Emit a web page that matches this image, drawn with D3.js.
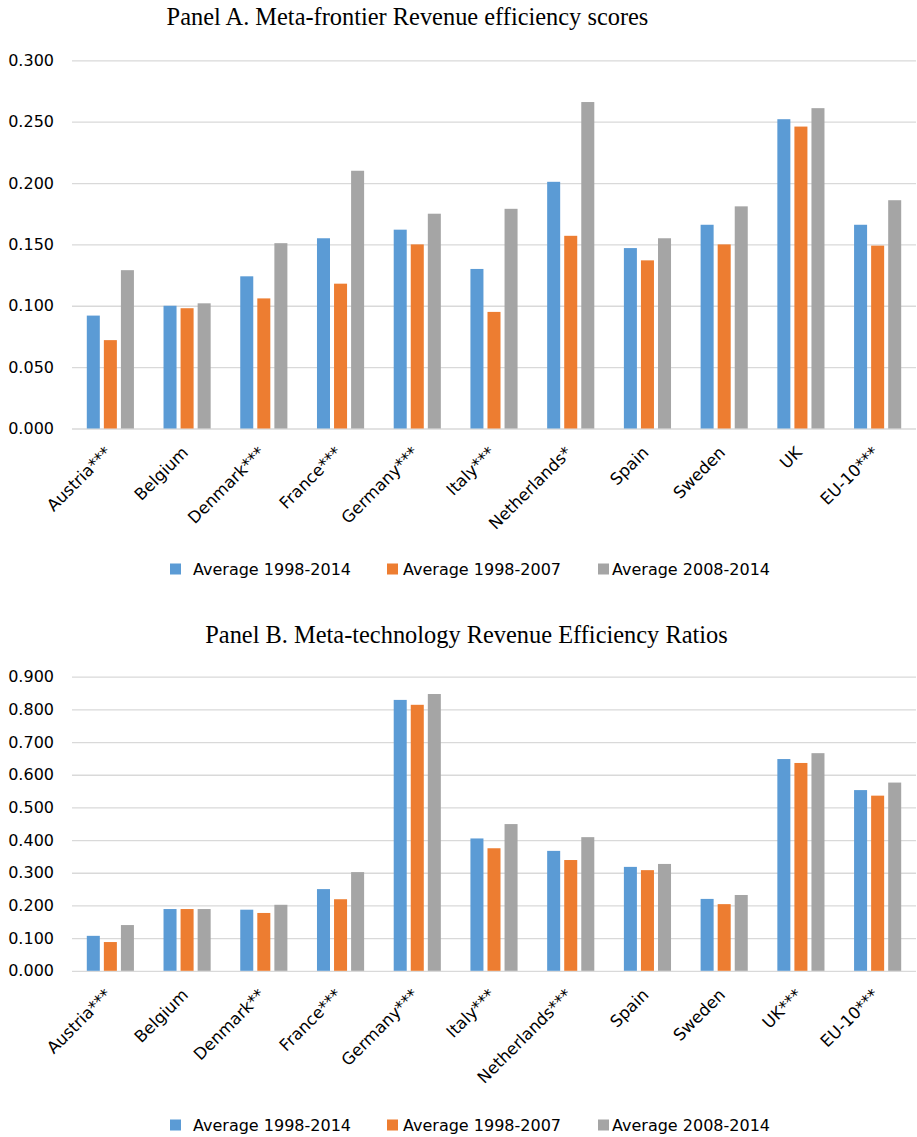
<!DOCTYPE html>
<html>
<head>
<meta charset="utf-8">
<script src="https://cdn.jsdelivr.net/npm/d3@7"></script>
<style>
  html, body { margin: 0; padding: 0; background: #fff; }
  svg { display: block; }
</style>
</head>
<body>
<svg id="chart" width="917" height="1137"></svg>
<script>
// Series names and colours
const seriesNames = ["Average 1998-2014", "Average 1998-2007", "Average 2008-2014"];
const seriesColors = ["#5B9BD5", "#ED7D31", "#A5A5A5"];

// Panel A: meta-frontier revenue efficiency scores
const categoriesA = ["Austria***", "Belgium", "Denmark***", "France***", "Germany***", "Italy***",
                     "Netherlands*", "Spain", "Sweden", "UK", "EU-10***"];
const a1998_2014 = [0.092, 0.100, 0.124, 0.155, 0.162, 0.130, 0.201, 0.147, 0.166, 0.252, 0.166];
const a1998_2007 = [0.072, 0.098, 0.106, 0.118, 0.150, 0.095, 0.157, 0.137, 0.150, 0.246, 0.149];
const a2008_2014 = [0.129, 0.102, 0.151, 0.210, 0.175, 0.179, 0.266, 0.155, 0.181, 0.261, 0.186];
const ticksA = [0, 0.05, 0.10, 0.15, 0.20, 0.25, 0.30];

// Panel B: meta-technology revenue efficiency ratios
const categoriesB = ["Austria***", "Belgium", "Denmark**", "France***", "Germany***", "Italy***",
                     "Netherlands***", "Spain", "Sweden", "UK***", "EU-10***"];
const b1998_2014 = [0.107, 0.189, 0.187, 0.250, 0.829, 0.405, 0.367, 0.318, 0.220, 0.648, 0.553];
const b1998_2007 = [0.088, 0.189, 0.177, 0.219, 0.814, 0.375, 0.339, 0.308, 0.204, 0.636, 0.536];
const b2008_2014 = [0.140, 0.189, 0.202, 0.302, 0.847, 0.449, 0.409, 0.327, 0.232, 0.666, 0.576];
const ticksB = [0, 0.1, 0.2, 0.3, 0.4, 0.5, 0.6, 0.7, 0.8, 0.9];

const svg = d3.select("#chart");
const AXIS_FONT = "'DejaVu Sans', sans-serif";

function drawPanel(cfg) {
  const g = svg.append("g");
  const x0 = d3.scaleBand().domain(cfg.categories).range([72, 916]).paddingInner(0.333).paddingOuter(0.1665);
  const x1 = d3.scaleBand().domain(d3.range(3)).range([0, x0.bandwidth()]).paddingInner(0.237).paddingOuter(0.1185);
  const y = d3.scaleLinear().domain([0, cfg.max]).range([cfg.bottom, cfg.top]);

  // title
  g.append("text")
    .attr("x", cfg.titleX).attr("y", cfg.titleY)
    .attr("text-anchor", "middle")
    .style("font-family", "'Liberation Serif', 'Times New Roman', serif")
    .style("font-size", "24.4px").style("fill", "#000")
    .text(cfg.title);

  // gridlines and tick labels
  const yAxis = d3.axisLeft(y).tickValues(cfg.ticks).tickFormat(d3.format(".3f"))
    .tickSize(-(916 - 72)).tickPadding(18);
  const ax = g.append("g").attr("transform", "translate(72,0)").call(yAxis);
  ax.select(".domain").remove();
  ax.selectAll(".tick line").attr("stroke", "#D9D9D9").attr("stroke-width", 1.3);
  ax.selectAll(".tick text")
    .style("font-family", AXIS_FONT).style("font-size", "16px").style("fill", "#000");

  // bars
  const rows = cfg.categories.map((c, i) => ({ c, vals: cfg.series.map(s => s[i]) }));
  const grp = g.selectAll("g.cat").data(rows).join("g")
    .attr("class", "cat")
    .attr("transform", d => `translate(${x0(d.c)},0)`);
  grp.selectAll("rect").data(d => d.vals.map((v, k) => ({ v, k }))).join("rect")
    .attr("x", d => x1(d.k))
    .attr("width", x1.bandwidth())
    .attr("y", d => y(d.v))
    .attr("height", d => y(0) - y(d.v))
    .attr("fill", d => seriesColors[d.k]);

  // category labels, rotated
  g.selectAll("text.cat").data(cfg.categories).join("text")
    .attr("class", "cat")
    .attr("transform", d => `translate(${x0(d) + x0.bandwidth() / 2 - 2},${cfg.bottom + 21}) rotate(-45)`)
    .attr("text-anchor", "end")
    .attr("dy", "0.35em")
    .style("font-family", AXIS_FONT).style("font-size", "16.5px").style("fill", "#000")
    .text(d => d);

  // legend
  const lg = g.append("g").attr("transform", `translate(0,${cfg.legendY})`);
  const legendSquares = [170, 387, 598];
  const legendTexts = [193, 403, 612];
  seriesNames.forEach((name, k) => {
    lg.append("rect").attr("x", legendSquares[k]).attr("y", -5.5).attr("width", 11).attr("height", 11)
      .attr("fill", seriesColors[k]);
    lg.append("text").attr("x", legendTexts[k]).attr("y", 0).attr("dy", "0.36em")
      .style("font-family", AXIS_FONT).style("font-size", "16px").style("fill", "#000")
      .text(name);
  });
}

drawPanel({
  title: "Panel A. Meta-frontier Revenue efficiency scores",
  titleX: 407.5, titleY: 25,
  categories: categoriesA,
  series: [a1998_2014, a1998_2007, a2008_2014],
  ticks: ticksA, max: 0.30,
  top: 60.3, bottom: 428.5,
  legendY: 569
});

drawPanel({
  title: "Panel B. Meta-technology Revenue Efficiency Ratios",
  titleX: 466.5, titleY: 643,
  categories: categoriesB,
  series: [b1998_2014, b1998_2007, b2008_2014],
  ticks: ticksB, max: 0.9,
  top: 676.7, bottom: 970.8,
  legendY: 1125
});
</script>
</body>
</html>
